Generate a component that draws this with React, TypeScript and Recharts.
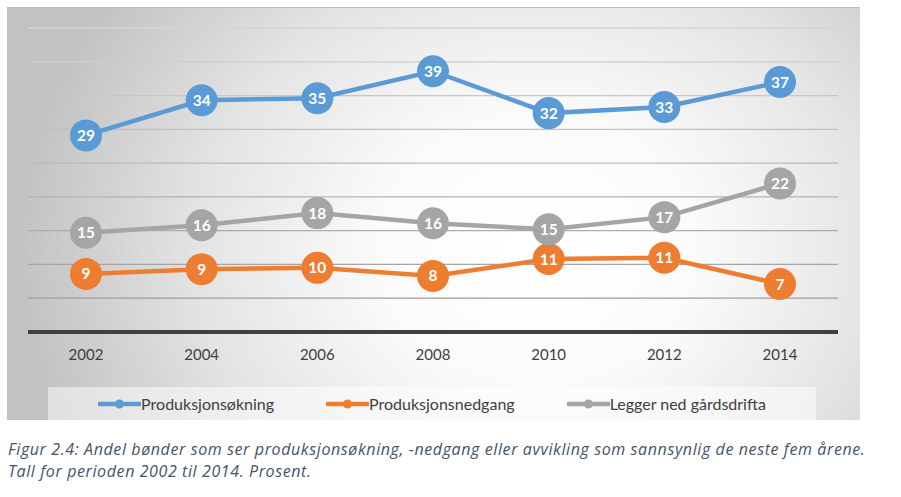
import React from 'react';
import { LineChart, Line, XAxis, YAxis, CartesianGrid, LabelList, Legend } from 'recharts';

const years = ['2002', '2004', '2006', '2008', '2010', '2012', '2014'];
const okning = [29.1, 34.3, 34.6, 38.6, 32.4, 33.3, 37.0];
const nedgang = [8.6, 9.3, 9.5, 8.3, 10.8, 11.0, 7.1];
const legger = [14.7, 15.8, 17.6, 16.1, 15.2, 17.0, 22.0];
const yTicks = [0, 5, 10, 15, 20, 25, 30, 35, 40, 45];

const seriesKeys = ['okning', 'nedgang', 'legger'];
const seriesNames = ['Produksjonsøkning', 'Produksjonsnedgang', 'Legger ned gårdsdrifta'];
const seriesColors = ['#5B9BD5', '#ED7D31', '#A5A5A5'];

const captionLines = [
  'Figur 2.4: Andel bønder som ser produksjonsøkning, -nedgang eller avvikling som sannsynlig de neste fem årene.',
  'Tall for perioden 2002 til 2014. Prosent.',
];

const data = years.map((year, i) => ({
  year,
  okning: okning[i],
  nedgang: nedgang[i],
  legger: legger[i],
}));

const FONT = 'Lato, "Open Sans", sans-serif';

const XTick = (props: any) => {
  const { x, y, payload } = props;
  return (
    <text x={x} y={y} dy={20} textAnchor="middle" fill="#404040" fontSize={15} fontFamily={FONT}>
      {payload.value}
    </text>
  );
};

const makeLabel = (key: string) => (props: any) => {
  const { x, y, value } = props;
  if (x == null || y == null) return null;
  return (
    <text
      key={`${key}-${x}`}
      x={x}
      y={y}
      dy={5.5}
      textAnchor="middle"
      fill="#ffffff"
      fontSize={15.5}
      fontWeight={700}
      fontFamily={FONT}
    >
      {Math.round(Number(value))}
    </text>
  );
};

const LegendContent = () => (
  <div
    style={{
      width: '100%',
      height: '100%',
      background: 'rgba(255,255,255,0.5)',
      display: 'flex',
      alignItems: 'center',
      justifyContent: 'center',
      gap: 52,
      fontFamily: FONT,
      fontSize: 16,
      color: '#404040',
    }}
  >
    {seriesNames.map((name, i) => (
      <div key={name} style={{ display: 'flex', alignItems: 'center' }}>
        <svg width={43} height={12} style={{ display: 'block' }}>
          <line x1={1} y1={6} x2={42} y2={6} stroke={seriesColors[i]} strokeWidth={4.5} strokeLinecap="round" />
          <circle cx={21.5} cy={6} r={4.5} fill={seriesColors[i]} />
        </svg>
        <span>{name}</span>
      </div>
    ))}
  </div>
);

export default function App() {
  return (
    <div style={{ position: 'absolute', left: 0, top: 0, width: 901, height: 497, background: '#fff' }}>
      <div
        style={{
          position: 'absolute',
          left: 7,
          top: 7,
          width: 853,
          height: 413,
          borderTop: '1px solid #bdbdbd',
          boxSizing: 'border-box',
          background:
            'radial-gradient(ellipse 520px 440px at 530px 240px, #ffffff 0%, #fbfbfb 30%, #e4e4e4 65%, #c2c2c2 100%)',
        }}
      />
      <div style={{ position: 'absolute', left: 0, top: 0 }}>
        <LineChart width={901} height={420} data={data} margin={{ top: 28, right: 63, bottom: 58, left: 28 }}>
          <defs>
            <linearGradient id="gridGrad" gradientUnits="userSpaceOnUse" x1="0" y1="20" x2="0" y2="310">
              <stop offset="0%" stopColor="#d6d6d6" />
              <stop offset="100%" stopColor="#9c9c9c" />
            </linearGradient>
          </defs>
          <CartesianGrid vertical={false} stroke="url(#gridGrad)" strokeWidth={1.3} />
          <YAxis hide domain={[0, 45]} ticks={yTicks} type="number" />
          <XAxis
            dataKey="year"
            height={30}
            padding={{ left: 58, right: 58 }}
            tickLine={false}
            axisLine={{ stroke: '#404040', strokeWidth: 4 }}
            tick={<XTick />}
            interval={0}
          />
          <Legend
            layout="horizontal"
            verticalAlign="middle"
            align="center"
            content={<LegendContent />}
            wrapperStyle={{ left: 48, top: 387, width: 768, height: 33 }}
          />
          {seriesKeys.map((key, i) => (
            <Line
              key={key}
              dataKey={key}
              name={seriesNames[i]}
              stroke={seriesColors[i]}
              strokeWidth={4.5}
              dot={{ r: 16, fill: seriesColors[i], stroke: seriesColors[i], strokeWidth: 0 }}
              activeDot={false}
              isAnimationActive={false}
            >
              <LabelList dataKey={key} content={makeLabel(key)} />
            </Line>
          ))}
        </LineChart>
      </div>
      <div
        style={{
          position: 'absolute',
          left: 8,
          top: 438,
          fontFamily: '"Open Sans", Lato, sans-serif',
          fontStyle: 'italic',
          fontSize: 16,
          letterSpacing: 0.6,
          lineHeight: '22px',
          color: '#44546A',
          whiteSpace: 'nowrap',
        }}
      >
        {captionLines.map((l) => (
          <div key={l}>{l}</div>
        ))}
      </div>
    </div>
  );
}
